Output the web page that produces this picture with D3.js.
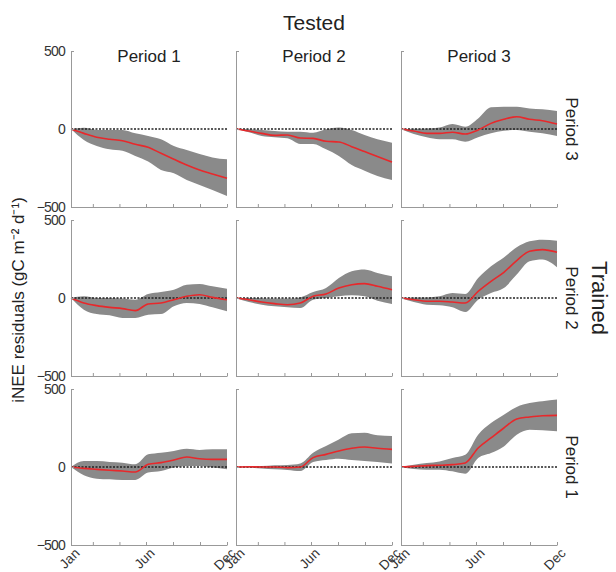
<!DOCTYPE html>
<html>
<head>
<meta charset="utf-8">
<script src="https://cdn.jsdelivr.net/npm/d3@7"></script>
<style>
  body { margin: 0; background: #fff; }
  svg text { font-family: "Liberation Sans", Arial, Helvetica, sans-serif; }
</style>
</head>
<body>
<svg id="chart" width="616" height="572"></svg>
<script>
// sample days (day of year) for every series
var days = [1, 31, 61, 91, 121, 151, 181, 211, 241, 271, 301, 331, 365];

var testedLabels = ["Period 1", "Period 2", "Period 3"];   // columns
var trainedLabels = ["Period 3", "Period 2", "Period 1"];  // rows, top to bottom
var yTicks = [-500, 0, 500];
var xTicks = [1, 52, 114, 176, 239, 302, 365];
var xTickLabels = {1: "Jan", 176: "Jun", 365: "Dec"};

// trained period 3
var t3s1Mid = [0, -28, -53, -66, -75, -98, -117, -156, -194, -231, -263, -288, -316];
var t3s1Hi  = [0, 8, -6, -6, -6, -28, -45, -66, -109, -135, -160, -182, -194];
var t3s1Lo  = [0, -70, -109, -130, -139, -173, -209, -263, -284, -327, -359, -391, -429];

var t3s2Mid = [0, -13, -28, -41, -38, -58, -60, -79, -83, -113, -145, -177, -212];
var t3s2Hi  = [0, -2, -6, -13, -17, -17, -24, -2, 10, -6, -38, -66, -88];
var t3s2Lo  = [0, -21, -45, -53, -60, -96, -96, -130, -173, -231, -267, -301, -327];

var t3s3Mid = [0, -13, -28, -28, -21, -32, -6, 36, 62, 79, 62, 53, 32];
var t3s3Hi  = [0, 2, 4, 10, 32, 15, 68, 139, 143, 143, 132, 126, 115];
var t3s3Lo  = [0, -32, -53, -66, -66, -81, -53, -28, -11, -6, -17, -28, -45];

// trained period 2
var t2s1Mid = [0, -32, -49, -60, -68, -81, -38, -32, -11, 11, 21, 4, -11];
var t2s1Hi  = [0, 11, 0, 0, -4, -11, 26, 38, 53, 85, 90, 75, 60];
var t2s1Lo  = [0, -75, -103, -111, -128, -128, -107, -103, -53, -32, -38, -60, -85];

var t2s2Mid = [0, -11, -26, -36, -43, -32, 11, 26, 64, 85, 92, 75, 53];
var t2s2Hi  = [0, 0, -2, -4, -4, 4, 38, 64, 128, 171, 182, 160, 139];
var t2s2Lo  = [0, -26, -43, -53, -60, -64, -11, 0, 11, 17, 11, -17, -38];

var t2s3Mid = [0, -11, -21, -21, -26, -32, 43, 107, 165, 240, 300, 310, 293];
var t2s3Hi  = [0, 4, 4, 11, 32, 26, 128, 203, 260, 325, 363, 374, 367];
var t2s3Lo  = [0, -26, -43, -47, -60, -90, -11, 32, 64, 150, 235, 246, 197];

// trained period 1
var t1s1Mid = [0, -9, -15, -21, -26, -32, 17, 28, 45, 64, 53, 49, 49];
var t1s1Hi  = [0, 38, 38, 32, 28, 17, 81, 92, 103, 117, 109, 113, 113];
var t1s1Lo  = [0, -53, -75, -79, -83, -83, -36, -26, -4, 6, 6, -4, -15];

var t1s2Mid = [0, 2, 0, 0, -4, 0, 60, 81, 103, 120, 128, 120, 113];
var t1s2Hi  = [0, 4, 6, 11, 13, 23, 92, 135, 177, 216, 220, 203, 199];
var t1s2Lo  = [0, -4, -9, -15, -19, -26, 32, 45, 53, 45, 38, 32, 23];

var t1s3Mid = [0, 4, 9, 11, 15, 26, 122, 186, 250, 308, 321, 329, 331];
var t1s3Hi  = [0, 15, 26, 36, 58, 79, 207, 282, 335, 385, 410, 421, 432];
var t1s3Lo  = [0, -13, -17, -17, -28, -43, 58, 90, 132, 207, 239, 235, 229];

var panelData = [
  [[t3s1Mid, t3s1Lo, t3s1Hi], [t3s2Mid, t3s2Lo, t3s2Hi], [t3s3Mid, t3s3Lo, t3s3Hi]],
  [[t2s1Mid, t2s1Lo, t2s1Hi], [t2s2Mid, t2s2Lo, t2s2Hi], [t2s3Mid, t2s3Lo, t2s3Hi]],
  [[t1s1Mid, t1s1Lo, t1s1Hi], [t1s2Mid, t1s2Lo, t1s2Hi], [t1s3Mid, t1s3Lo, t1s3Hi]]
];

var svg = d3.select("#chart");

// panel geometry
var colX = [71, 236, 401];
var rowTop = [51, 220, 389];
var pw = 156, ph = 156;

var x = d3.scaleLinear().domain([1, 365]).range([0, pw]);
var y = d3.scaleLinear().domain([-500, 500]).range([ph, 0]);

var axisColor = "#999";

svg.append("text")
  .attr("x", colX[1] + pw / 2).attr("y", 30)
  .attr("text-anchor", "middle")
  .attr("font-size", 21).attr("fill", "#222")
  .text("Tested");

svg.append("text")
  .attr("transform", "translate(592,298) rotate(90)")
  .attr("text-anchor", "middle")
  .attr("font-size", 22).attr("fill", "#222")
  .text("Trained");

svg.append("text")
  .attr("transform", "translate(24,300) rotate(-90)")
  .attr("text-anchor", "middle")
  .attr("font-size", 17).attr("fill", "#222")
  .text("iNEE residuals (gC m\u207B\u00B2 d\u207B\u00B9)");

testedLabels.forEach(function(lab, c) {
  svg.append("text")
    .attr("x", colX[c] + pw / 2).attr("y", 62)
    .attr("text-anchor", "middle")
    .attr("font-size", 17).attr("fill", "#222")
    .text(lab);
});

trainedLabels.forEach(function(lab, r) {
  svg.append("text")
    .attr("transform", "translate(566," + (rowTop[r] + ph / 2) + ") rotate(90)")
    .attr("text-anchor", "middle")
    .attr("font-size", 17).attr("fill", "#222")
    .text(lab);
});

var area = d3.area()
  .x(function(d) { return x(d.day); })
  .y0(function(d) { return y(d.lo); })
  .y1(function(d) { return y(d.hi); })
  .curve(d3.curveMonotoneX);

var line = d3.line()
  .x(function(d) { return x(d.day); })
  .y(function(d) { return y(d.mid); })
  .curve(d3.curveMonotoneX);

panelData.forEach(function(row, r) {
  row.forEach(function(series, c) {
    var g = svg.append("g")
      .attr("transform", "translate(" + colX[c] + "," + rowTop[r] + ")");

    var pts = days.map(function(d, i) {
      return {day: d, mid: series[0][i], lo: series[1][i], hi: series[2][i]};
    });

    g.append("path").attr("d", area(pts))
      .attr("fill", "#8a8a8a").attr("stroke", "none");

    g.append("line")
      .attr("x1", 0).attr("x2", pw)
      .attr("y1", y(0)).attr("y2", y(0))
      .attr("stroke", "#222").attr("stroke-width", 1.4)
      .attr("stroke-dasharray", "2,1.5");

    g.append("path").attr("d", line(pts))
      .attr("fill", "none").attr("stroke", "#e8282b").attr("stroke-width", 1.6);

    // axes
    var xa = g.append("g").attr("transform", "translate(0," + ph + ")")
      .call(d3.axisBottom(x).tickValues(xTicks).tickSizeInner(-3).tickSizeOuter(0)
        .tickFormat(function(d) { return r == 2 ? (xTickLabels[d] || "") : ""; }));
    xa.select(".domain").attr("stroke", axisColor);
    xa.selectAll(".tick line").attr("stroke", axisColor);
    xa.selectAll(".tick text")
      .style("font-size", "13.5px").attr("fill", "#333")
      .attr("text-anchor", "end")
      .attr("dy", null).attr("y", 0)
      .attr("transform", "translate(9,9) rotate(-45)");

    var ya = g.append("g")
      .call(d3.axisLeft(y).tickValues(yTicks).tickSizeInner(-3).tickSizeOuter(0).tickPadding(6)
        .tickFormat(function(d) { return c == 0 ? (d < 0 ? "\u2212" + Math.abs(d) : d) : ""; }));
    ya.select(".domain").attr("stroke", axisColor);
    ya.selectAll(".tick line").attr("stroke", axisColor);
    ya.selectAll(".tick text").attr("font-size", 14).attr("fill", "#333")
      .attr("letter-spacing", -0.8);
  });
});
</script>
</body>
</html>
